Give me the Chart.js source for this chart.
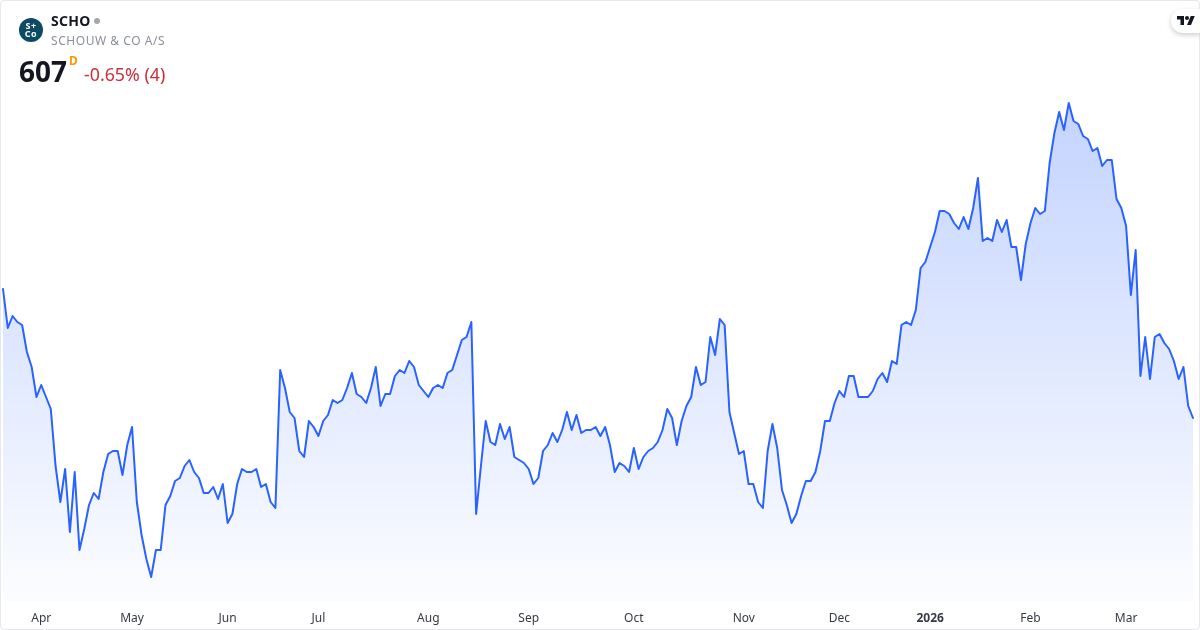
<!DOCTYPE html>
<html>
<head>
<meta charset="utf-8">
<title>SCHO</title>
<script src="https://cdn.jsdelivr.net/npm/chart.js@4/dist/chart.umd.min.js"></script>
<style>
  html, body { margin: 0; padding: 0; background: #fff; }
  body { width: 1200px; height: 630px; position: relative; overflow: hidden; font-family: "Noto Sans", sans-serif; }
  canvas { position: absolute; left: 0; top: 0; }
  .frame { position: absolute; left: 0; top: 0; width: 1198px; height: 628px; border: 1px solid #e6e8ee; border-radius: 4px; }
  .abs { position: absolute; white-space: nowrap; }
  .logo { left: 19px; top: 18px; width: 24px; height: 24px; border-radius: 50%; background: #0d4a66; color: #fff;
          font-size: 9px; font-weight: 700; line-height: 8px; text-align: center; padding-top: 4px; box-sizing: border-box; letter-spacing: .5px; }
  .symbol { left: 51px; top: 12px; font-size: 14px; line-height: 18px; font-weight: 700; color: #131722; letter-spacing: .3px; }
  .dot { left: 94px; top: 18px; width: 6px; height: 6px; border-radius: 50%; background: #a5a7ad; }
  .name { left: 51px; top: 32px; font-size: 12px; line-height: 17px; color: #8b8f99; letter-spacing: .55px; }
  .price { left: 19px; top: 52px; font-size: 28px; line-height: 38px; font-weight: 700; color: #131722; }
  .flag { left: 69px; top: 54px; font-size: 12px; line-height: 14px; font-weight: 700; color: #ff9800; }
  .change { left: 84px; top: 62px; font-size: 17.8px; line-height: 25px; color: #cc2f3c; }
  .badge { left: 1171px; top: 9px; width: 29px; height: 24px; border-radius: 12px 0 0 12px; background: #fff; box-shadow: 0 2px 5px rgba(0,0,0,.2); }
  .badge svg { position: absolute; left: 6px; top: 5px; }
</style>
</head>
<body>
<canvas id="chart" width="1200" height="630"></canvas>
<div class="frame"></div>
<div class="abs logo">S+<br>Co</div>
<div class="abs symbol">SCHO</div>
<div class="abs dot"></div>
<div class="abs name">SCHOUW &amp; CO A/S</div>
<div class="abs price">607</div>
<div class="abs flag">D</div>
<div class="abs change">-0.65% (4)</div>
<div class="abs badge">
  <svg width="18" height="14" viewBox="0 0 36 28"><path fill="#131722" d="M14 22H7V11H0V4h14v18zM28 22h-8l7.5-18h8L28 22z"/><circle fill="#131722" cx="20" cy="8" r="4"/></svg>
</div>
<script>
// daily closes
const closes = [
  650, 637, 641, 639, 638, 629, 624, 614, 618, 614,
  610, 591, 579, 590, 569, 589, 563, 570, 578, 582,
  580, 589, 595, 596, 596, 588, 598, 604, 579, 568,
  560, 554, 563, 563, 578, 581, 586, 587, 591, 593,
  589, 587, 582, 582, 584, 580, 585, 572, 575, 585,
  590, 589, 589, 590, 584, 585, 579, 577, 623, 617,
  609, 607, 596, 594, 606, 604, 601, 606, 608, 613,
  612, 613, 617, 622, 615, 614, 612, 617, 624, 611,
  615, 615, 621, 623, 622, 626, 624, 618, 616, 614,
  617, 618, 617, 622, 623, 628, 633, 634, 639, 575,
  591, 606, 599, 598, 605, 600, 604, 594, 593, 592,
  590, 585, 587, 596, 598, 602, 599, 603, 609, 603,
  608, 602, 603, 603, 604, 601, 604, 598, 589, 592,
  591, 589, 597, 590, 594, 596, 597, 599, 603, 610,
  607, 598, 606, 611, 614, 624, 618, 619, 634, 628,
  640, 638, 609, 602, 595, 596, 585, 585, 579, 577,
  596, 605, 597, 583, 578, 572, 575, 581, 586, 586,
  589, 596, 606, 606, 612, 616, 614, 621, 621, 614,
  614, 614, 616, 620, 622, 619, 626, 625, 638, 639,
  638, 643, 657, 659, 664, 669, 676, 676, 675, 672,
  670, 674, 670, 677, 687, 666, 667, 666, 673, 669,
  673, 664, 664, 653, 665, 672, 677, 675, 676, 692,
  702, 709, 703, 712, 706, 705, 701, 700, 696, 697,
  691, 693, 693, 680, 677, 671, 648, 663, 621, 634,
  620, 634, 635, 632, 630, 626, 620, 624, 611, 607
];

// which bar each month label sits on
const tickIndex = [8, 27, 47, 66, 89, 110, 132, 155, 175, 194, 215, 235];
const tickLabels = ['Apr', 'May', 'Jun', 'Jul', 'Aug', 'Sep', 'Oct', 'Nov', 'Dec', '2026', 'Feb', 'Mar'];

const labels = closes.map((_, i) => {
    const t = tickIndex.indexOf(i);
    return t >= 0 ? tickLabels[t] : '';
});

const ctx = document.getElementById('chart').getContext('2d');

new Chart(ctx, {
    type: 'line',
    data: {
        labels: labels,
        datasets: [
            {
                data: closes,
                borderColor: '#2962ff',
                borderWidth: 2,
                borderJoinStyle: 'round',
                borderCapStyle: 'round',
                pointRadius: 0,
                tension: 0,
                fill: 'start',
                backgroundColor: (c) => {
                    const area = c.chart.chartArea;
                    if (!area) return 'rgba(41, 98, 255, 0.1)';
                    const g = c.chart.ctx.createLinearGradient(0, 102, 0, 630);
                    g.addColorStop(0, 'rgba(41, 98, 255, 0.28)');
                    g.addColorStop(1, 'rgba(41, 98, 255, 0)');
                    return g;
                },
            },
        ],
    },
    options: {
        responsive: false,
        animation: false,
        layout: { autoPadding: false, padding: { left: 3, right: 7, top: 10, bottom: 0 } },
        plugins: { legend: { display: false }, tooltip: { enabled: false } },
        scales: {
            x: {
                grid: { display: false, drawTicks: false },
                border: { display: false },
                afterFit: (scale) => {
                    scale.height = 29;
                    scale.paddingLeft = 0;
                    scale.paddingRight = 0;
                },
                ticks: {
                    autoSkip: false,
                    maxRotation: 0,
                    padding: 10,
                    color: '#363a45',
                    font: (c) => ({
                        family: '"Noto Sans", sans-serif',
                        size: 12,
                        weight: c.tick && c.tick.label === '2026' ? 'bold' : 'normal',
                    }),
                },
            },
            y: { display: false, min: 546, max: 743 },
        },
    },
});
</script>
</body>
</html>
